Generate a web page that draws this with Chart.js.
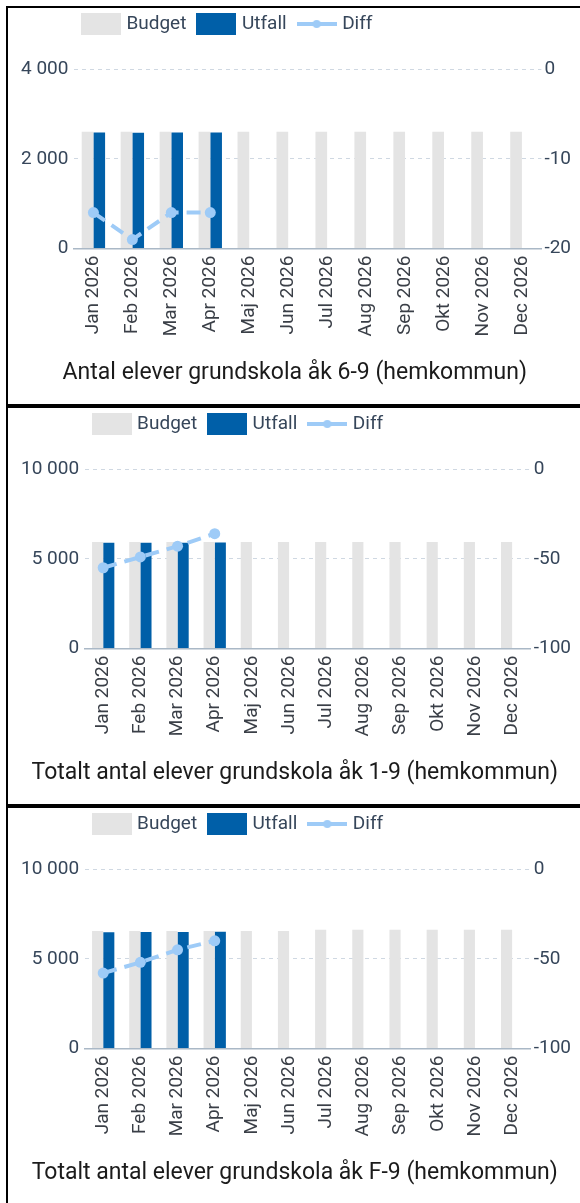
<!DOCTYPE html>
<html>
<head>
<meta charset="utf-8">
<script src="https://cdn.jsdelivr.net/npm/chart.js@4.4.1/dist/chart.umd.min.js"></script>
<style>
  body { margin: 0; background: #fff; }
  .panel { position: absolute; left: 6px; width: 572px; height: 396px; border: 2px solid #000; }
  .panel canvas { display: block; }
</style>
</head>
<body>
<div class="panel" style="top: 6px"><canvas id="chart69" width="572" height="396"></canvas></div>
<div class="panel" style="top: 406px"><canvas id="chart19" width="572" height="396"></canvas></div>
<div class="panel" style="top: 806px"><canvas id="chartF9" width="572" height="396"></canvas></div>
<script>
const months = ["Jan 2026", "Feb 2026", "Mar 2026", "Apr 2026", "Maj 2026", "Jun 2026",
  "Jul 2026", "Aug 2026", "Sep 2026", "Okt 2026", "Nov 2026", "Dec 2026"];

// åk 6-9
const budget69 = [2600, 2600, 2600, 2600, 2600, 2600, 2600, 2600, 2600, 2600, 2600, 2600];
const utfall69 = [2584, 2581, 2584, 2584, null, null, null, null, null, null, null, null];
const diff69 = [-16, -19, -16, -16, null, null, null, null, null, null, null, null];
const leftTicks69 = [0, 2000, 4000];
const rightTicks69 = [-20, -10, 0];

// åk 1-9
const budget19 = [5940, 5940, 5940, 5940, 5940, 5940, 5940, 5940, 5940, 5940, 5940, 5940];
const utfall19 = [5885, 5891, 5897, 5904, null, null, null, null, null, null, null, null];
const diff19 = [-55, -49, -43, -36, null, null, null, null, null, null, null, null];
const leftTicks19 = [0, 5000, 10000];
const rightTicks19 = [-100, -50, 0];

// åk F-9
const budgetF9 = [6540, 6540, 6540, 6540, 6540, 6540, 6620, 6620, 6620, 6620, 6620, 6620];
const utfallF9 = [6482, 6488, 6495, 6500, null, null, null, null, null, null, null, null];
const diffF9 = [-58, -52, -45, -40, null, null, null, null, null, null, null, null];
const leftTicksF9 = [0, 5000, 10000];
const rightTicksF9 = [-100, -50, 0];

const BUDGET = "#e4e4e4";
const UTFALL = "#005fa8";
const DIFF = "#9ecbf7";
const TICK = "#36465a";
const AXIS = "#aab8c6";
const GRID = "#cfd8e2";

Chart.defaults.font.family = "Roboto";
Chart.defaults.animation = false;

function legendIcon(draw) {
  const c = document.createElement("canvas");
  c.width = 40;
  c.height = 22;
  draw(c.getContext("2d"));
  return c;
}

const icons = [
  legendIcon((g) => { g.fillStyle = BUDGET; g.fillRect(0, 0, 40, 22); }),
  legendIcon((g) => { g.fillStyle = UTFALL; g.fillRect(0, 0, 40, 22); }),
  legendIcon((g) => {
    g.strokeStyle = DIFF;
    g.lineWidth = 4;
    g.beginPath(); g.moveTo(0, 11); g.lineTo(40, 11); g.stroke();
    g.fillStyle = DIFF;
    g.beginPath(); g.arc(20, 11, 4, 0, Math.PI * 2); g.fill();
  }),
];

const spaced = (v) => String(v).replace(/\B(?=(\d{3})+(?!\d))/g, " ");

// legend sits above the first bar, with room below it
const legendSpace = {
  id: "legendSpace",
  beforeInit(chart) {
    const fit = chart.legend.fit;
    chart.legend.fit = function () {
      fit.call(this);
      this.height = 61;
    };
  },
  afterLayout(chart) {
    chart.legend.left = chart.chartArea.left - 3;
    chart.legend.top = -7.5;
  },
};

function makeChart(id, title, budget, utfall, diff, leftTicks, rightTicks) {
  new Chart(document.getElementById(id), {
    data: {
      labels: months,
      datasets: [
        {
          type: "bar",
          label: "Budget",
          data: budget,
          backgroundColor: BUDGET,
          barPercentage: 1,
          categoryPercentage: 0.6,
          yAxisID: "y",
          order: 2,
        },
        {
          type: "bar",
          label: "Utfall",
          data: utfall,
          backgroundColor: UTFALL,
          barPercentage: 1,
          categoryPercentage: 0.6,
          yAxisID: "y",
          order: 2,
        },
        {
          type: "line",
          label: "Diff",
          data: diff,
          borderColor: DIFF,
          backgroundColor: DIFF,
          borderWidth: 4,
          borderDash: [14, 8],
          pointRadius: 5.5,
          pointBorderWidth: 0,
          yAxisID: "y1",
          order: 1,
        },
      ],
    },
    options: {
      responsive: false,
      layout: { padding: { left: 7.5, right: 6 } },
      scales: {
        x: {
          grid: { display: false, drawTicks: false },
          border: { display: true, color: AXIS, width: 1.5 },
          ticks: {
            autoSkip: false,
            minRotation: 90,
            maxRotation: 90,
            padding: 7,
            color: "#3a3f47",
            font: { size: 19 },
          },
        },
        y: {
          position: "left",
          min: leftTicks[0],
          max: leftTicks[leftTicks.length - 1],
          grid: { color: GRID, drawTicks: false },
          border: { display: false, dash: [4, 4] },
          ticks: {
            stepSize: leftTicks[1] - leftTicks[0],
            padding: 5.5,
            color: TICK,
            font: { size: 19 },
            callback: spaced,
          },
        },
        y1: {
          position: "right",
          min: rightTicks[0],
          max: rightTicks[rightTicks.length - 1],
          grid: { display: false, drawTicks: false },
          border: { display: false },
          ticks: {
            stepSize: rightTicks[1] - rightTicks[0],
            padding: 3,
            color: TICK,
            font: { size: 19 },
          },
        },
      },
      plugins: {
        tooltip: { enabled: false },
        legend: {
          position: "top",
          align: "start",
          labels: {
            usePointStyle: true,
            pointStyleWidth: 32,
            padding: 14,
            color: TICK,
            font: { size: 19 },
            generateLabels: (chart) => {
              const items = Chart.defaults.plugins.legend.labels.generateLabels(chart);
              items.forEach((it) => { it.pointStyle = icons[it.datasetIndex]; });
              return items.sort((a, b) => a.datasetIndex - b.datasetIndex);
            },
          },
        },
        title: {
          display: true,
          position: "bottom",
          text: title,
          color: "#1b1b1b",
          font: { size: 23, weight: "normal" },
          padding: { top: 16, bottom: 17 },
        },
      },
    },
    plugins: [legendSpace],
  });
}

makeChart("chart69", "Antal elever grundskola åk 6-9 (hemkommun)",
  budget69, utfall69, diff69, leftTicks69, rightTicks69);
makeChart("chart19", "Totalt antal elever grundskola åk 1-9 (hemkommun)",
  budget19, utfall19, diff19, leftTicks19, rightTicks19);
makeChart("chartF9", "Totalt antal elever grundskola åk F-9 (hemkommun)",
  budgetF9, utfallF9, diffF9, leftTicksF9, rightTicksF9);
</script>
</body>
</html>
